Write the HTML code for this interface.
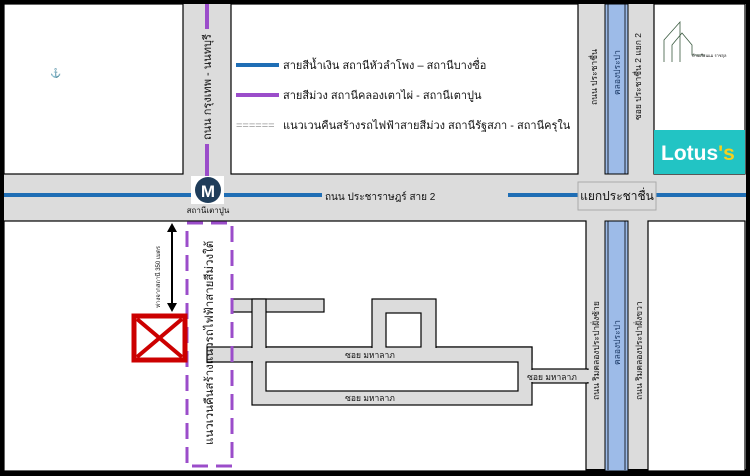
<!DOCTYPE html>
<html><head><meta charset="utf-8"><style>
html,body{margin:0;padding:0;background:#000;}
svg{display:block}
text{font-family:"Liberation Sans","Noto Sans CJK SC",sans-serif;fill:#111}
</style></head><body>
<svg width="750" height="476" viewBox="0 0 750 476" xmlns="http://www.w3.org/2000/svg">
<rect x="0" y="0" width="750" height="476" fill="#000"/>
<rect x="4" y="4" width="742" height="465" fill="#dcdcdc"/>
<g fill="#fff" stroke="#000" stroke-width="1.2">
<rect x="4" y="4" width="179" height="170"/>
<rect x="231" y="4" width="347" height="170"/>
<rect x="654" y="4" width="91" height="170"/>
<rect x="4" y="221" width="582" height="250"/>
<rect x="648" y="221" width="97" height="250"/>
</g>
<rect x="654" y="130" width="91" height="44" fill="#22c4c4"/>
<text x="661" y="160" font-size="21" font-weight="bold" style="fill:#fff">Lotus<tspan style="fill:#f5d020">'s</tspan></text>
<g fill="none" stroke="#3a5a40" stroke-width="0.8">
<path d="M664 62 V40 L680 22 L680 62"/><path d="M672 62 V45 L682 33 L692 45 V55 H705"/>
</g>
<text x="692" y="57" font-size="4">บ้านเรือนแม ราชกุล</text>
<g fill="#9dbbe8" stroke="#000" stroke-width="1">
<rect x="605" y="4" width="23" height="170"/>
<rect x="605" y="221" width="23" height="250"/>
</g>
<g stroke="#000" stroke-width="0.8"><line x1="608" y1="4" x2="608" y2="174"/><line x1="625" y1="4" x2="625" y2="174"/><line x1="608" y1="221" x2="608" y2="470"/><line x1="625" y1="221" x2="625" y2="470"/></g>
<line x1="4" y1="195" x2="746" y2="195" stroke="#1f6eb5" stroke-width="4"/>
<line x1="207" y1="4" x2="207" y2="180" stroke="#9b4dca" stroke-width="4"/>
<rect x="195" y="29" width="24" height="115" fill="#dcdcdc"/>
<rect x="322" y="186" width="186" height="18" fill="#dcdcdc"/>
<text x="325" y="200" font-size="10">ถนน ประชาราษฎร์ สาย 2</text>
<rect x="578" y="182" width="78" height="28" fill="#dcdcdc" stroke="#aaa"/>
<text x="617" y="200" font-size="12" text-anchor="middle">แยกประชาชื่น</text>
<rect x="191" y="176" width="33" height="28" fill="#fff"/>
<circle cx="208" cy="190" r="13" fill="#1f3d5a"/>
<text x="208" y="197" font-size="17" font-weight="bold" text-anchor="middle" style="fill:#fff">M</text>
<text x="208" y="213" font-size="8" text-anchor="middle">สถานีเตาปูน</text>
<text x="50" y="76" font-size="9" style="fill:#5a8fc0">⚓</text>
<text transform="translate(211,140) rotate(-90)" font-size="11">ถนน กรุงเทพ - นนทบุรี</text>
<text transform="translate(597,105) rotate(-90)" font-size="8.5">ถนน ประชาชื่น</text>
<text transform="translate(620,95) rotate(-90)" font-size="8.5" style="fill:#1f3d6a">คลองประปา</text>
<text transform="translate(641,120) rotate(-90)" font-size="8.5">ซอย ประชาชื่น 2 แยก 2</text>
<text transform="translate(599,400) rotate(-90)" font-size="8.5">ถนน ริมคลองประปาฝั่งซ้าย</text>
<text transform="translate(620,365) rotate(-90)" font-size="8.5" style="fill:#1f3d6a">คลองประปา</text>
<text transform="translate(642,400) rotate(-90)" font-size="8.5">ถนน ริมคลองประปาฝั่งขวา</text>
<line x1="236" y1="65" x2="279" y2="65" stroke="#1f6eb5" stroke-width="4"/>
<text x="283" y="69" font-size="11">สายสีน้ำเงิน สถานีหัวลำโพง – สถานีบางซื่อ</text>
<line x1="236" y1="95" x2="279" y2="95" stroke="#9b4dca" stroke-width="4"/>
<text x="283" y="99" font-size="11">สายสีม่วง สถานีคลองเตาไผ่ - สถานีเตาปูน</text>
<text x="236" y="129" font-size="11" style="fill:#999">======</text>
<text x="283" y="129" font-size="11">แนวเวนคืนสร้างรถไฟฟ้าสายสีม่วง สถานีรัฐสภา - สถานีครุใน</text>
<g fill="#dcdcdc" stroke="#000" stroke-width="1.2">
<rect x="207" y="347" width="325" height="15"/>
<rect x="252" y="347" width="280" height="58"/>
<rect x="532" y="369" width="56" height="14"/>
<rect x="232" y="299" width="92" height="13"/>
<rect x="252" y="299" width="14" height="63"/>
<rect x="372" y="299" width="64" height="63"/>
</g>
<g fill="#dcdcdc">
<rect x="208" y="348" width="323" height="13"/>
<rect x="253" y="348" width="278" height="56"/>
<rect x="530" y="370" width="60" height="12"/>
<rect x="253" y="300" width="12" height="62"/>
<rect x="373" y="300" width="62" height="62"/>
</g>
<g fill="#fff" stroke="#000" stroke-width="1.2">
<rect x="266" y="362" width="252" height="29"/>
<rect x="386" y="313" width="35" height="34"/>
</g>
<text x="370" y="358" font-size="8.5" text-anchor="middle">ซอย มหาลาภ</text>
<text x="370" y="401" font-size="8.5" text-anchor="middle">ซอย มหาลาภ</text>
<text x="552" y="380" font-size="8.5" text-anchor="middle">ซอย มหาลาภ</text>
<rect x="187" y="223" width="45" height="243" fill="none" stroke="#9b4dca" stroke-width="3" stroke-dasharray="16 8"/>
<text transform="translate(213,445) rotate(-90)" font-size="11.5">แนวเวนคืนสร้างแนวรถไฟฟ้าสายสีม่วงใต้</text>
<rect x="134" y="316" width="51" height="44" fill="#fff" stroke="#cc0000" stroke-width="5"/>
<line x1="137" y1="319" x2="182" y2="357" stroke="#cc0000" stroke-width="4"/>
<line x1="182" y1="319" x2="137" y2="357" stroke="#cc0000" stroke-width="4"/>
<line x1="172" y1="230" x2="172" y2="306" stroke="#000" stroke-width="2"/>
<path d="M172 223 L167 232 L177 232Z M172 312 L167 303 L177 303Z" fill="#000"/>
<text transform="translate(160,308) rotate(-90)" font-size="6">ห่างจากสถานี 350 เมตร</text>
</svg>
</body></html>
